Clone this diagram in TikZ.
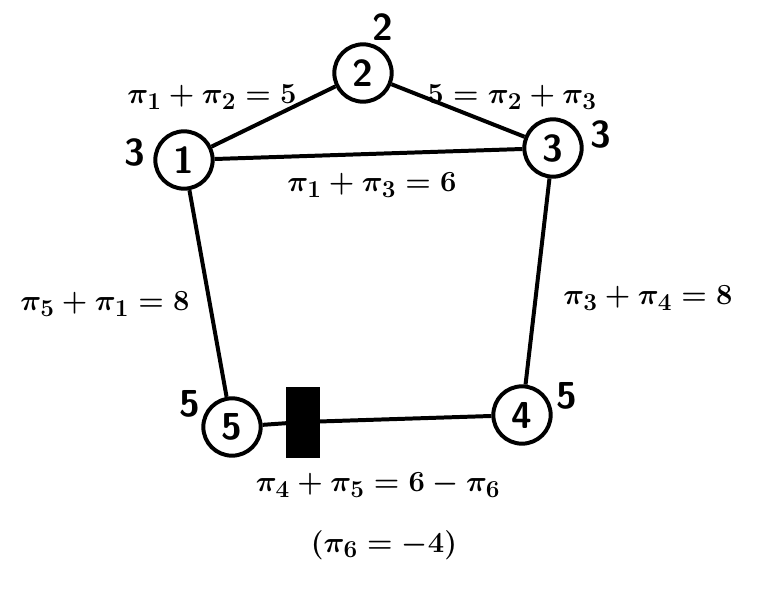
\documentclass[tikz,border=0pt]{standalone}
\usepackage{amsmath,amssymb}
\usepackage{tikz}
\usetikzlibrary{positioning}

\begin{document}
\begin{tikzpicture}[
    x=0.03cm, y=-0.03cm,
    vtx/.style={draw, circle, line width=3.4pt, minimum size=1.72cm, inner sep=0pt, font=\fontsize{32}{34}\selectfont\bfseries\sffamily, fill=white},
    blkbox/.style={fill=black, minimum width=1cm, minimum height=2.13cm, inner sep=0pt},
    edge/.style={line width=3.4pt},
    eq/.style={font=\fontsize{28}{30}\selectfont\boldmath, inner sep=1pt},
    wt/.style={font=\fontsize{32}{34}\selectfont\bfseries\sffamily, inner sep=1pt}
]
\useasboundingbox (0,0) rectangle (761,589);

% vertices
\node[vtx] (n1) at (184,160) {1};
\node[vtx] (n2) at (363,73) {2};
\node[vtx] (n3) at (553,148) {3};
\node[vtx] (n4) at (522,415) {4};
\node[vtx] (n5) at (232,427) {5};
\node[blkbox] (blk) at (303,422) {};

% edges
\draw[edge] (n1) -- (n2);
\draw[edge] (n2) -- (n3);
\draw[edge] (n1) -- (n3);
\draw[edge] (n1) -- (n5);
\draw[edge] (n3) -- (n4);
\draw[edge] (n5) -- (blk);
\draw[edge] (blk) -- (n4);

% vertex weights
\node[wt] (w2) at (383,27) {2};
\node[wt] (w1) at (135,152) {3};
\node[wt] (w3) at (601,134) {3};
\node[wt] (w5) at (190,404) {5};
\node[wt] (w4) at (567,396) {5};

% edge equations
\node[eq] (e12) at (212,97) {$\pi_1 + \pi_2 = 5$};
\node[eq] (e23) at (512,97) {$5 = \pi_2 + \pi_3$};
\node[eq] (e13) at (372,185) {$\pi_1 + \pi_3 = 6$};
\node[eq] (e15) at (105,304) {$\pi_5 + \pi_1 = 8$};
\node[eq] (e34) at (648,298) {$\pi_3 + \pi_4 = 8$};
\node[eq] (e45) at (378,485) {$\pi_4 + \pi_5 = 6 - \pi_6$};
\node[eq] (p6) at (384,545) {$(\pi_6 = -4)$};
\end{tikzpicture}
\end{document}
